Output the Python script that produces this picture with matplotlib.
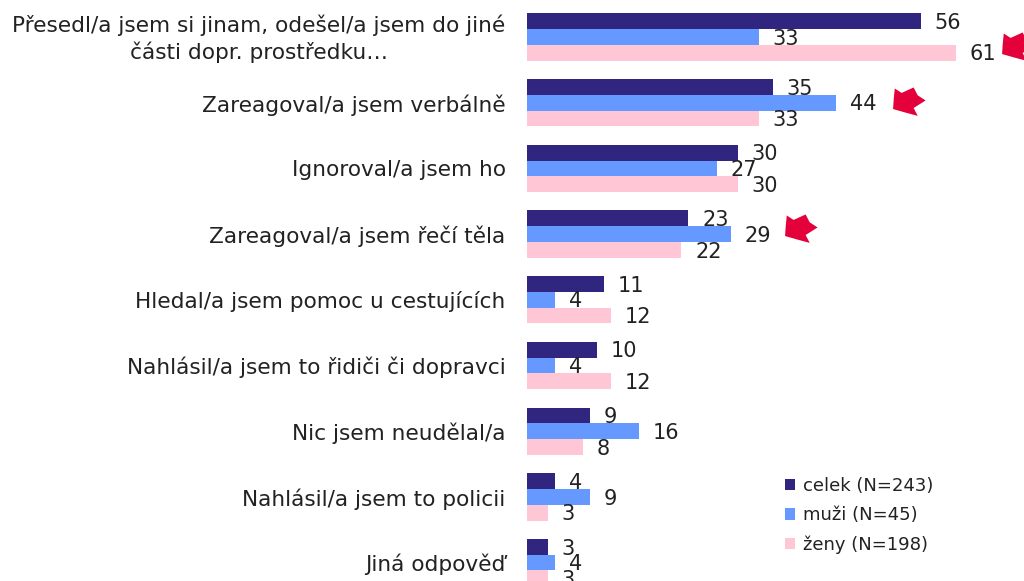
import matplotlib
matplotlib.use("Agg")
import matplotlib.pyplot as plt
from matplotlib.path import Path
from matplotlib.patches import Patch
import numpy as np

categories = ["Přesedl/a jsem si jinam, odešel/a jsem do jiné\nčásti dopr. prostředku…",
              "Zareagoval/a jsem verbálně", "Ignoroval/a jsem ho",
              "Zareagoval/a jsem řečí těla", "Hledal/a jsem pomoc u cestujících",
              "Nahlásil/a jsem to řidiči či dopravci", "Nic jsem neudělal/a",
              "Nahlásil/a jsem to policii", "Jiná odpověď"]
celek = [56, 35, 30, 23, 11, 10, 9, 4, 3]
muzi = [33, 44, 27, 29, 4, 4, 16, 9, 4]
zeny = [61, 33, 30, 22, 12, 12, 8, 3, 3]
series_names = ["celek (N=243)", "muži (N=45)", "ženy (N=198)"]
colors = ["#30267F", "#6699FF", "#FFC6D6"]
# highlighted categories: (x in value units, category position)
flag_x = [69.8, 54.4, 39.0]
flag_y = [0.14, 0.97, 2.9]

plt.rcParams["font.family"] = ["DejaVu Sans"]
fig = plt.figure(figsize=(10.24, 5.81), dpi=100)
ax = fig.add_axes([526.5/1024, 0, 497.5/1024, 1])
ax.set_xlim(0, 497.5/7.04)
ax.set_ylim(8.28, -0.563)
ax.axis("off")

h = 0.24
y = np.arange(len(categories))
for vals, off, col in zip((celek, muzi, zeny), (-h, 0, h), colors):
    ax.barh(y + off, vals, height=h, color=col, linewidth=0)
    for yi, v in zip(y + off, vals):
        ax.annotate(str(v), (v, yi), xytext=(10, -1.2), textcoords="offset points",
                    va="center", ha="left", fontsize=15, color="#222222")
for yi, c in zip(y, categories):
    ax.annotate(c, (0, yi), xytext=(-15, -1.5), textcoords="offset points",
                va="center", ha="right", multialignment="center" if "\n" in c else "right",
                fontsize=15.6, color="#222222", linespacing=1.3, annotation_clip=False)

verts = [(45, 265), (65, 278), (100, 262), (112, 285), (135, 300), (100, 322),
         (112, 345), (75, 335), (40, 325), (42, 295), (45, 265)]
verts = [(a - 88, 303 - b) for a, b in verts]
marker = Path(verts, closed=True)
ax.scatter(flag_x, flag_y, marker=marker, s=560, color="#E4003A", linewidth=0, zorder=5, clip_on=True)

handles = [Patch(facecolor=c, edgecolor="none") for c in colors]
fig.legend(handles, series_names, loc="lower left", bbox_to_anchor=(785/1024, 1-554/581),
           frameon=False, fontsize=13, handlelength=0.58, handleheight=0.58,
           handletextpad=0.4, labelspacing=0.62, borderpad=0, borderaxespad=0,
           labelcolor="#222222")
fig.savefig("out.png", dpi=100)
